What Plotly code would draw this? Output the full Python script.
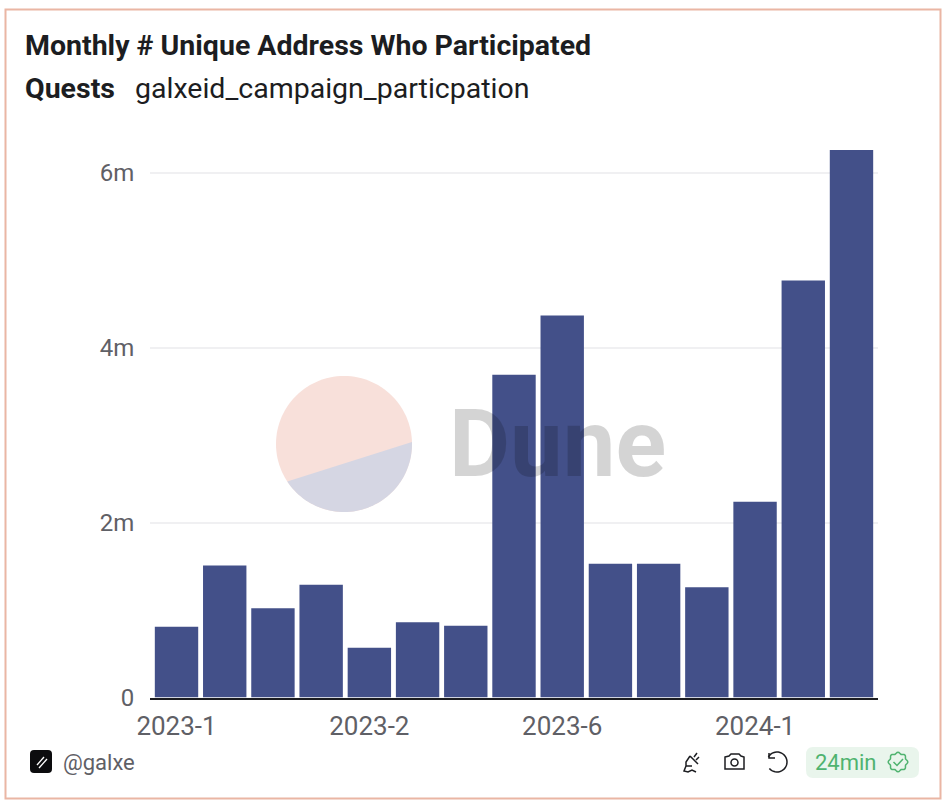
import math
import plotly.graph_objects as go

categories = ["2023-1", "2023-10", "2023-11", "2023-12", "2023-2", "2023-3", "2023-4", "2023-5",
              "2023-6", "2023-7", "2023-8", "2023-9", "2024-1", "2024-2", "2024-3"]
values = [810000, 1510000, 1020000, 1290000, 570000, 860000, 820000, 3690000,
          4370000, 1530000, 1530000, 1260000, 2240000, 4770000, 6260000]
x_ticks = ["2023-1", "2023-2", "2023-6", "2024-1"]
y_ticks = [0, 2000000, 4000000, 6000000]
y_labels = ["0", "2m", "4m", "6m"]

W, H = 948, 806
FONT = "Roboto"
def px(x): return x / W
def py(y): return 1 - y / H
def P(*pts):
    return " ".join(f"{c} {px(x)} {py(y)}" for c, x, y in pts)

def arc_path(cx, cy, r, a0, a1, n=60):
    pts = []
    for i in range(n + 1):
        a = math.radians(a0 + (a1 - a0) * i / n)
        pts.append(("M" if i == 0 else "L", cx + r * math.cos(a), cy + r * math.sin(a)))
    return P(*pts) + " Z"

def scallop_path(cx, cy, r, n=64):
    pts = []
    for i in range(n + 1):
        a = 2 * math.pi * i / n
        rr = r * (1 + 0.09 * math.cos(8 * a))
        pts.append(("M" if i == 0 else "L", cx + rr * math.cos(a), cy + rr * math.sin(a)))
    return P(*pts) + " Z"

fig = go.Figure()
fig.add_trace(go.Bar(x=categories, y=values, marker=dict(color="#435089", line=dict(width=0)),
                     showlegend=False))

ann = dict(xref="paper", yref="paper", showarrow=False)
annotations = [
    dict(ann, x=px(22.5), y=py(46), xanchor="left", yanchor="middle",
         text="<b>Monthly # Unique Address Who Participated</b>", font=dict(family=FONT, size=28.5, color="#1c1d21")),
    dict(ann, x=px(22.5), y=py(88), xanchor="left", yanchor="middle",
         text="<b>Quests</b>", font=dict(family=FONT, size=28.5, color="#1c1d21")),
    dict(ann, x=px(132.5), y=py(88), xanchor="left", yanchor="middle",
         text="galxeid_campaign_particpation", font=dict(family=FONT, size=28.5, color="#1c1d21")),
    dict(ann, x=px(557), y=py(444), xanchor="center", yanchor="middle",
         text="<b>Dune</b>", font=dict(family=FONT, size=94, color="rgba(0,0,0,0.17)")),
    dict(ann, x=px(61), y=py(762), xanchor="left", yanchor="middle",
         text="@galxe", font=dict(family=FONT, size=22, color="#5f6066")),
    dict(ann, x=px(813), y=py(762), xanchor="left", yanchor="middle",
         text="24min", font=dict(family=FONT, size=22, color="#4fb36f")),
]

line_dark = dict(color="#1c1d21", width=1.5)
base = dict(xref="paper", yref="paper")
shapes = [
    # card frame
    dict(base, type="rect", x0=px(5.5), x1=px(940.5), y0=py(798.5), y1=py(9.5),
         line=dict(color="#eab6a4", width=2), fillcolor="rgba(0,0,0,0)", layer="below"),
    # watermark disc
    dict(base, type="path", path=arc_path(344, 444, 68, 0, 360, 120), fillcolor="#f8e0da",
         line=dict(width=0), layer="below"),
    dict(base, type="path", path=arc_path(344, 444, 68, -1.7, 146.6), fillcolor="#d5d6e3",
         line=dict(width=0), layer="below"),
    # logo
    dict(base, type="path", fillcolor="#0c0c0e", line=dict(width=0),
         path=P(("M", 34, 750), ("L", 48, 750)) + f" Q {px(52)} {py(750)} {px(52)} {py(754)} "
              + P(("L", 52, 769)) + f" Q {px(52)} {py(773)} {px(48)} {py(773)} " + P(("L", 34, 773))
              + f" Q {px(30)} {py(773)} {px(30)} {py(769)} " + P(("L", 30, 754))
              + f" Q {px(30)} {py(750)} {px(34)} {py(750)} Z"),
    dict(base, type="line", x0=px(37), x1=px(44), y0=py(765), y1=py(757), line=dict(color="white", width=1.3)),
    dict(base, type="line", x0=px(39), x1=px(47), y0=py(768), y1=py(759), line=dict(color="white", width=1.3)),
    # badge
    dict(base, type="path", fillcolor="#e9f5ec", line=dict(width=0),
         path=P(("M", 813, 747), ("L", 911, 747)) + f" Q {px(919)} {py(747)} {px(919)} {py(755)} "
              + P(("L", 919, 770)) + f" Q {px(919)} {py(778)} {px(911)} {py(778)} " + P(("L", 813, 778))
              + f" Q {px(806)} {py(778)} {px(806)} {py(770)} " + P(("L", 806, 755))
              + f" Q {px(806)} {py(747)} {px(813)} {py(747)} Z"),
    # verified icon
    dict(base, type="path", path=scallop_path(898, 762, 9), line=dict(color="#4fb36f", width=1.5)),
    dict(base, type="path", line=dict(color="#4fb36f", width=1.5),
         path=P(("M", 893.5, 762), ("L", 897, 765.5), ("L", 903, 759))),
    # camera icon
    dict(base, type="path", line=line_dark,
         path=P(("M", 725, 757), ("L", 729, 756), ("L", 731, 754), ("L", 739, 754), ("L", 741, 756),
                ("L", 744, 757), ("L", 744, 769), ("L", 725, 769)) + " Z"),
    dict(base, type="circle", x0=px(731), x1=px(738), y0=py(766), y1=py(759), line=line_dark),
    # refresh icon
    dict(base, type="path", line=line_dark,
         path=arc_path(777, 762, 10, -150, 140, 30).replace(" Z", "")),
    dict(base, type="path", line=line_dark, path=P(("M", 769, 753), ("L", 769, 758), ("L", 775, 758))),
    # plug icon
    dict(base, type="path", line=line_dark,
         path=P(("M", 690, 756), ("L", 698, 764)) + " " + P(("M", 694, 757), ("L", 697, 753)) + " "
              + P(("M", 696, 760), ("L", 699, 757)) + " " + P(("M", 690, 756), ("L", 686, 762), ("L", 686, 766),
                                                              ("L", 692, 766))
              + " " + P(("M", 686, 766), ("L", 684, 771), ("L", 688, 772), ("L", 692, 770), ("L", 696, 772))),
]

fig.update_layout(
    width=W, height=H, autosize=False,
    margin=dict(l=0, r=0, t=0, b=0, autoexpand=False),
    paper_bgcolor="white", plot_bgcolor="rgba(0,0,0,0)",
    font=dict(family=FONT, color="#5f6066", size=24),
    bargap=0.1, hovermode=False,
    annotations=annotations, shapes=shapes,
    xaxis=dict(domain=[px(150), px(878)], type="category", categoryorder="array", categoryarray=categories,
               range=[-0.55, 14.55], tickmode="array", tickvals=x_ticks, ticktext=x_ticks, automargin=False,
               showgrid=False, zeroline=False, showline=True, linecolor="#1c1d21", linewidth=1.5,
               ticks="outside", ticklen=5, tickcolor="rgba(0,0,0,0)", tickfont=dict(size=26, color="#5f6066"), anchor="y"),
    yaxis=dict(domain=[py(697.5), py(130)], range=[0, 6490000], tickmode="array", tickvals=y_ticks,
               ticktext=y_labels, showgrid=True, gridcolor="#f0f0f2", gridwidth=1.5, zeroline=False, automargin=False,
               ticks="outside", ticklen=10, tickcolor="rgba(0,0,0,0)", tickfont=dict(size=24, color="#5f6066"),
               anchor="x"),
)
fig.write_html("out.html", config={"displayModeBar": False},
               post_script="document.body.style.margin='0';document.documentElement.style.overflow='hidden';")
